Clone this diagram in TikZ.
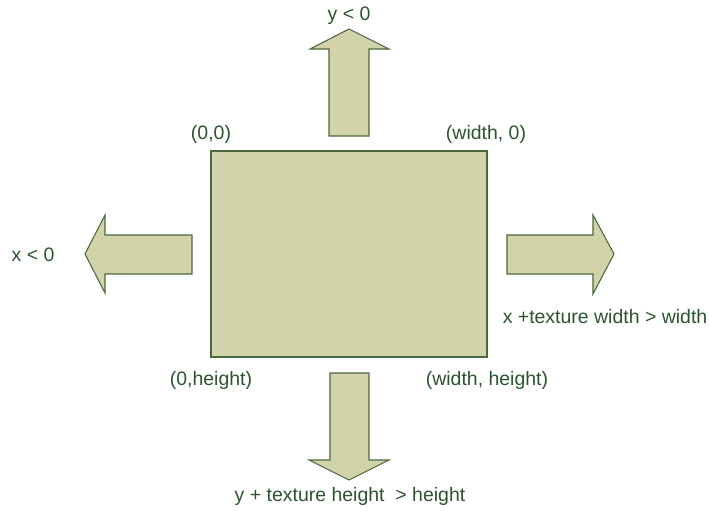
\documentclass[tikz,border=0pt]{standalone}
\usepackage{fontspec}
\setmainfont{Liberation Sans}
\usepackage{xcolor}
\definecolor{khaki}{RGB}{210,211,170}
\definecolor{rimgreen}{RGB}{74,104,62}
\definecolor{textgreen}{RGB}{44,84,46}

\begin{document}
\begin{tikzpicture}[x=0.75pt,y=-0.75pt,
  label/.style={text=textgreen,font=\fontsize{14.6}{17}\selectfont,inner sep=0pt},
  blockarrow/.style={fill=khaki,draw=rimgreen,line width=0.8pt,line join=miter}]
  \useasboundingbox (0,0) rectangle (709,510);

  % texture rectangle
  \node[blockarrow,draw,rectangle,minimum width=276*0.75pt,minimum height=206*0.75pt,
        inner sep=0pt] (tex) at (349,254) {};

  % corner coordinates
  \node[label] (topleft) at (211,134) {(0,0)};
  \node[label] (topright) at (486,134) {(width, 0)};
  \node[label] (botleft) at (211,380) {(0,height)};
  \node[label] (botright) at (487,380) {(width, height)};

  % out of range arrows
  \draw[blockarrow] (329,136) -- (329,49) -- (310,49) -- (349,29)
    -- (389,49) -- (369,49) -- (369,136) -- cycle;
  \draw[blockarrow] (330,373) -- (330,460) -- (309,460) -- (349,480)
    -- (389,460) -- (369,460) -- (369,373) -- cycle;
  \draw[blockarrow] (192,235) -- (105,235) -- (105,215) -- (85,254)
    -- (105,293) -- (105,274) -- (192,274) -- cycle;
  \draw[blockarrow] (507,235) -- (593,235) -- (593,215) -- (614,254)
    -- (593,294) -- (593,274) -- (507,274) -- cycle;

  \node[label] (ylow) at (349,16) {y < 0};
  \node[label] (xlow) at (33,255) {x < 0};
  \node[label] (xhigh) at (605,317) {x +texture width > width};
  \node[label] (yhigh) at (350,496) {y + texture height\ \ > height};
\end{tikzpicture}
\end{document}
